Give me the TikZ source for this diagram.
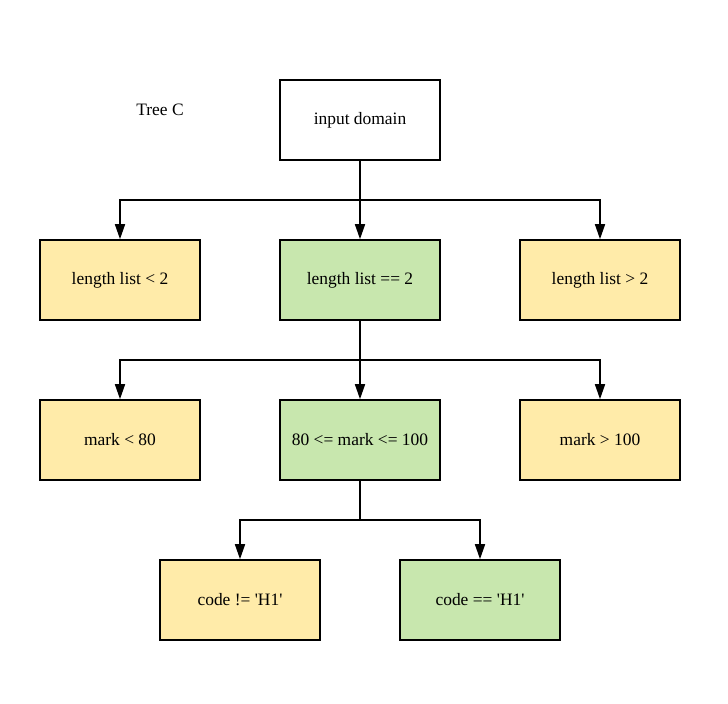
\documentclass[tikz,border=0pt]{standalone}
\usepackage{fontspec}
\setmainfont{Liberation Serif}
\usetikzlibrary{arrows.meta}
\definecolor{okgreen}{HTML}{C8E7AE}
\definecolor{badyellow}{HTML}{FFEBA9}
\tikzset{
  box/.style={draw=black,line width=1.6bp,minimum width=160bp,minimum height=80bp,inner sep=0pt,font=\fontsize{17.5}{20}\selectfont},
  yes/.style={box,fill=okgreen},
  no/.style={box,fill=badyellow},
  arr/.style={line width=1.6bp,-{Triangle[length=15bp,width=10bp]}}
}
\begin{document}
\begin{tikzpicture}[x=1bp,y=-1bp]
\useasboundingbox (0,0) rectangle (728,704);
\node[font=\fontsize{17.5}{20}\selectfont] (title) at (160,110) {Tree C};
\node[box] (dom) at (360,120) {input domain};
%hang 1
\foreach \t/\s/\x [count=\i] in {length list < 2/no/120,length list == 2/yes/360,length list > 2/no/600}
{\node[\s] (len\i) at (\x,280) {\t};}
%hang 2
\foreach \t/\s/\x [count=\i] in {mark < 80/no/120,80 <= mark <= 100/yes/360,mark > 100/no/600}
{\node[\s] (mark\i) at (\x,440) {\t};}
%hang 3
\node[no] (code1) at (240,600) {code != \textquotesingle H1\textquotesingle};
\node[yes] (code2) at (480,600) {code == \textquotesingle H1\textquotesingle};
%moc noi
\coordinate (j1) at (360,200);
\coordinate (j2) at (360,360);
\coordinate (j3) at (360,520);
\foreach \i in {1,2,3}
{\draw[arr] (dom.south) -- (j1) -| (len\i.north);
\draw[arr] (len2.south) -- (j2) -| (mark\i.north);}
\foreach \i in {1,2}
\draw[arr] (mark2.south) -- (j3) -| (code\i.north);
\end{tikzpicture}
\end{document}
